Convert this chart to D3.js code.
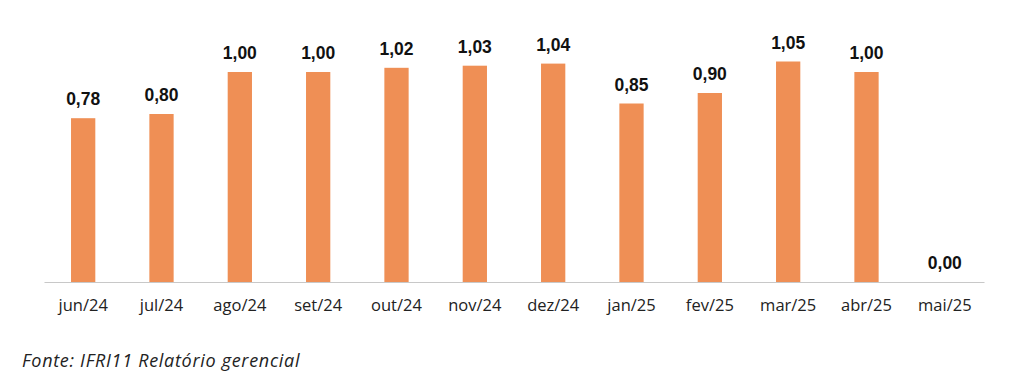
<!DOCTYPE html>
<html>
<head>
<meta charset="utf-8">
<script src="https://cdn.jsdelivr.net/npm/d3@7"></script>
<style>
  body { margin: 0; background: #fff; }
  svg { display: block; }
</style>
</head>
<body>
<div id="chart"></div>
<script>
var months = ["jun/24", "jul/24", "ago/24", "set/24", "out/24", "nov/24", "dez/24", "jan/25", "fev/25", "mar/25", "abr/25", "mai/25"];
var values = [0.78, 0.80, 1.00, 1.00, 1.02, 1.03, 1.04, 0.85, 0.90, 1.05, 1.00, 0.00];
var source = "Fonte: IFRI11 Relatório gerencial";

var width = 1024, height = 388;
var baseY = 282;

var svg = d3.select("#chart").append("svg")
  .attr("width", width)
  .attr("height", height);

var x = d3.scaleBand()
  .domain(months)
  .range([44, 984])
  .paddingInner(0.69)
  .paddingOuter(0.345);

var y = d3.scaleLinear()
  .domain([0, 1])
  .range([baseY, baseY - 210]);

var fmt = function(v) { return v.toFixed(2).replace(".", ","); };

svg.selectAll("rect.bar").data(values).enter().append("rect")
  .attr("class", "bar")
  .attr("x", function(d, i) { return x(months[i]); })
  .attr("y", function(d) { return y(d); })
  .attr("width", x.bandwidth())
  .attr("height", function(d) { return baseY - y(d); })
  .style("fill", "#EF8F55");

svg.selectAll("text.val").data(values).enter().append("text")
  .attr("class", "val")
  .attr("x", function(d, i) { return x(months[i]) + x.bandwidth() / 2; })
  .attr("y", function(d) { return y(d) - 13; })
  .attr("text-anchor", "middle")
  .style("font-family", "'Liberation Sans', Arial, sans-serif")
  .style("font-weight", "bold")
  .style("font-size", "17.5px")
  .style("fill", "#111")
  .text(fmt);

var xAxis = d3.axisBottom(x).tickSize(0).tickPadding(17);
var gx = svg.append("g")
  .attr("transform", "translate(0," + baseY + ")")
  .call(xAxis);
gx.select(".domain").attr("stroke", "#c8c8c8").attr("stroke-width", 1.2);
gx.selectAll("text")
  .style("font-family", "'Open Sans', sans-serif")
  .style("font-size", "16.5px")
  .style("fill", "#222");

svg.append("text")
  .attr("x", 22)
  .attr("y", 367)
  .style("font-family", "'Open Sans', sans-serif")
  .style("font-style", "italic")
  .style("font-size", "18px")
  .style("letter-spacing", "0.7px")
  .style("fill", "#222")
  .text(source);
</script>
</body>
</html>
